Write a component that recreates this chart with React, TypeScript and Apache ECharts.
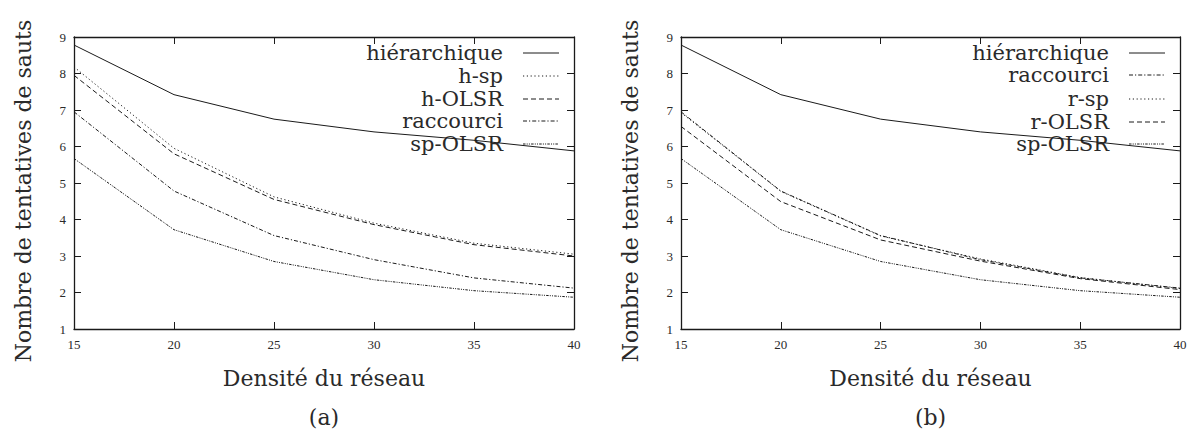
import React, { useEffect, useRef } from "react";
import * as echarts from "echarts";

// ---- data ----
const densities = [15, 20, 25, 30, 35, 40];
const hierarchique = [8.78, 7.42, 6.75, 6.4, 6.17, 5.88];
const hSp = [8.18, 5.95, 4.62, 3.9, 3.35, 3.05];
const hOlsr = [7.95, 5.8, 4.55, 3.86, 3.31, 3.0];
const raccourci = [6.95, 4.78, 3.56, 2.9, 2.4, 2.12];
const spOlsr = [5.67, 3.72, 2.85, 2.35, 2.05, 1.87];
const rSp = [6.93, 4.77, 3.55, 2.92, 2.41, 2.11];
const rOlsr = [6.55, 4.49, 3.44, 2.86, 2.38, 2.08];

const xTitle = "Densité du réseau";
const yTitle = "Nombre de tentatives de sauts";
const panelLabels = ["(a)", "(b)"];

// ---- styles ----
const BIG_FONT = "DejaVu Serif, Liberation Serif, serif";
const TICK_FONT = "Liberation Serif, DejaVu Serif, serif";
const INK = "#1a1a1a";
const TEXT = "#2a2a2a";
const DASH: Record<string, any> = {
  solid: "solid",
  dotted: [1.2, 2.6],
  dashed: [5, 3],
  dashdot: [4, 2, 1.2, 2],
  dashdotdot: [2.5, 1.2, 1, 1.2, 1, 1.2],
};

type Item = { name: string; values: number[]; dash: string };

const panelA: Item[] = [
  { name: "hiérarchique", values: hierarchique, dash: "solid" },
  { name: "h-sp", values: hSp, dash: "dotted" },
  { name: "h-OLSR", values: hOlsr, dash: "dashed" },
  { name: "raccourci", values: raccourci, dash: "dashdot" },
  { name: "sp-OLSR", values: spOlsr, dash: "dashdotdot" },
];
const panelB: Item[] = [
  { name: "hiérarchique", values: hierarchique, dash: "solid" },
  { name: "raccourci", values: raccourci, dash: "dashdot" },
  { name: "r-sp", values: rSp, dash: "dotted" },
  { name: "r-OLSR", values: rOlsr, dash: "dashed" },
  { name: "sp-OLSR", values: spOlsr, dash: "dashdotdot" },
];

const grids = [
  { left: 74, top: 37, width: 500, height: 292 },
  { left: 681, top: 37, width: 499, height: 292 },
];
const legendRowsY = [
  [53, 76, 99, 121, 144],
  [53, 75, 99, 122, 144],
];

export default function App() {
  const ref = useRef<HTMLDivElement>(null);
  useEffect(() => {
    if (!ref.current) return;
    const chart = echarts.init(ref.current, undefined, { renderer: "svg" });
    const panels = [panelA, panelB];

    const axisLineStyle = { color: INK, width: 1.3 };
    const tick = { show: true, inside: true, length: 7, lineStyle: { color: INK, width: 1 } };
    const xAxes: any[] = [];
    const yAxes: any[] = [];
    grids.forEach((_, gi) => {
      xAxes.push({
        type: "value", gridIndex: gi, min: 15, max: 40, interval: 5, position: "bottom",
        axisLine: { show: true, lineStyle: axisLineStyle },
        axisTick: tick,
        axisLabel: { fontFamily: TICK_FONT, fontSize: 13, color: TEXT, margin: 9 },
        splitLine: { show: false },
      });
      xAxes.push({
        type: "value", gridIndex: gi, min: 15, max: 40, interval: 5, position: "top",
        axisLine: { show: true, lineStyle: axisLineStyle },
        axisTick: tick,
        axisLabel: { show: false },
        splitLine: { show: false },
      });
      yAxes.push({
        type: "value", gridIndex: gi, min: 1, max: 9, interval: 1, position: "left",
        axisLine: { show: true, lineStyle: axisLineStyle },
        axisTick: tick,
        axisLabel: { fontFamily: TICK_FONT, fontSize: 13, color: TEXT, margin: 8 },
        splitLine: { show: false },
      });
      yAxes.push({
        type: "value", gridIndex: gi, min: 1, max: 9, interval: 1, position: "right",
        axisLine: { show: true, lineStyle: axisLineStyle },
        axisTick: tick,
        axisLabel: { show: false },
        splitLine: { show: false },
      });
    });

    const series: any[] = [];
    const graphic: any[] = [];
    panels.forEach((items, gi) => {
      const g = grids[gi];
      const right = g.left + g.width;
      items.forEach((it, k) => {
        series.push({
          type: "line",
          name: it.name,
          xAxisIndex: gi * 2,
          yAxisIndex: gi * 2,
          data: densities.map((d, i) => [d, it.values[i]]),
          symbol: "none",
          lineStyle: { color: INK, width: 1, type: DASH[it.dash] },
          z: 10 - k,
        });
        const ry = legendRowsY[gi][k];
        graphic.push({
          type: "text",
          x: right - 71,
          y: ry,
          style: {
            text: it.name,
            fontFamily: BIG_FONT,
            fontSize: 21,
            fill: TEXT,
            align: "right",
            verticalAlign: "middle",
          },
        });
        graphic.push({
          type: "line",
          shape: { x1: right - 51, y1: ry, x2: right - 15, y2: ry },
          style: {
            stroke: INK,
            lineWidth: 1,
            lineDash: it.dash === "solid" ? null : DASH[it.dash],
          },
        });
      });
      const cx = g.left + g.width / 2;
      graphic.push({
        type: "text", x: cx, y: 378,
        style: { text: xTitle, fontFamily: BIG_FONT, fontSize: 22, fill: TEXT, align: "center", verticalAlign: "middle" },
      });
      graphic.push({
        type: "text", x: cx, y: 417,
        style: { text: panelLabels[gi], fontFamily: BIG_FONT, fontSize: 22, fill: TEXT, align: "center", verticalAlign: "middle" },
      });
      graphic.push({
        type: "text", x: g.left - 51, y: 191, rotation: Math.PI / 2,
        style: { text: yTitle, fontFamily: BIG_FONT, fontSize: 22, fill: TEXT, align: "center", verticalAlign: "middle" },
      });
    });

    chart.setOption({
      animation: false,
      backgroundColor: "#ffffff",
      grid: grids,
      xAxis: xAxes,
      yAxis: yAxes,
      series,
      graphic,
    });
    return () => chart.dispose();
  }, []);
  return (
    <div
      ref={ref}
      style={{ position: "fixed", left: 0, top: 0, width: 1195, height: 432 }}
    />
  );
}
